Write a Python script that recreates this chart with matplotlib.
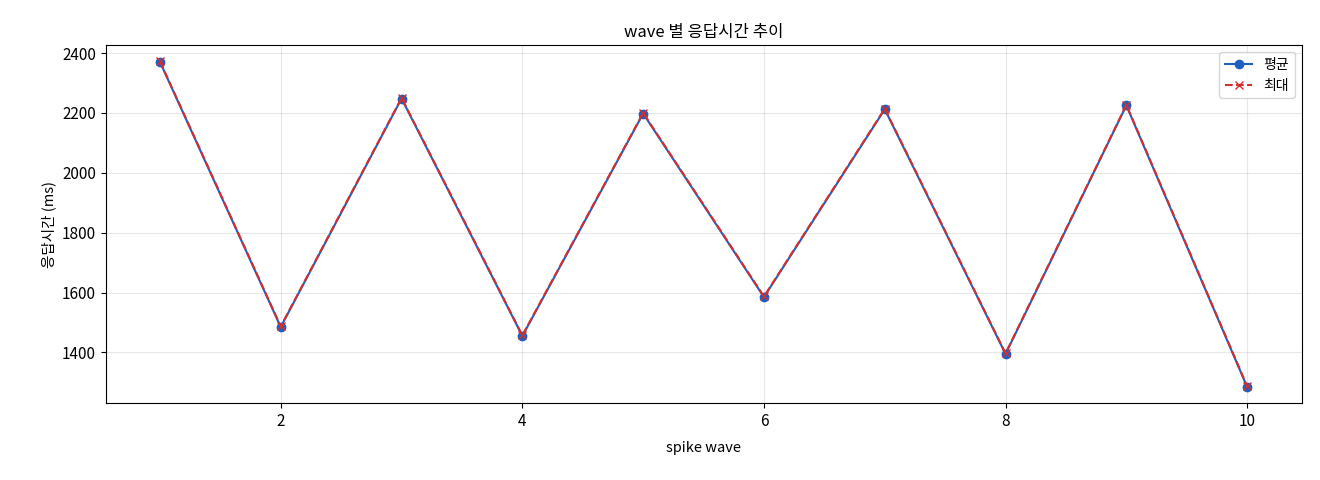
import matplotlib
matplotlib.use("Agg")
import matplotlib.pyplot as plt

plt.rcParams['font.family'] = ['Noto Sans CJK KR', 'DejaVu Sans']

waves = [1, 2, 3, 4, 5, 6, 7, 8, 9, 10]
avg_ms = [2370, 1485, 2248, 1455, 2198, 1585, 2212, 1395, 2225, 1285]
max_ms = [2372, 1487, 2250, 1457, 2200, 1587, 2214, 1397, 2227, 1287]

fig = plt.figure(figsize=(13.2, 4.8), dpi=100)
ax = fig.add_axes([0.08, 0.16, 0.906, 0.746])

ax.plot(waves, avg_ms, marker="o", color="#1f5fbf", linewidth=1.5, markersize=6, label="평균")
ax.plot(waves, max_ms, marker="x", linestyle="--", color="#d32f2f", linewidth=1.5, markersize=6, label="최대")

ax.set_title("wave 별 응답시간 추이", fontsize=12)
ax.set_xlabel("spike wave", fontsize=10.5, labelpad=8)
ax.set_ylabel("응답시간 (ms)", fontsize=10.5)
ax.tick_params(labelsize=11)
ax.grid(True, alpha=0.3)
ax.legend(loc="upper right", fontsize=10)

fig.savefig("out.png", dpi=100)
